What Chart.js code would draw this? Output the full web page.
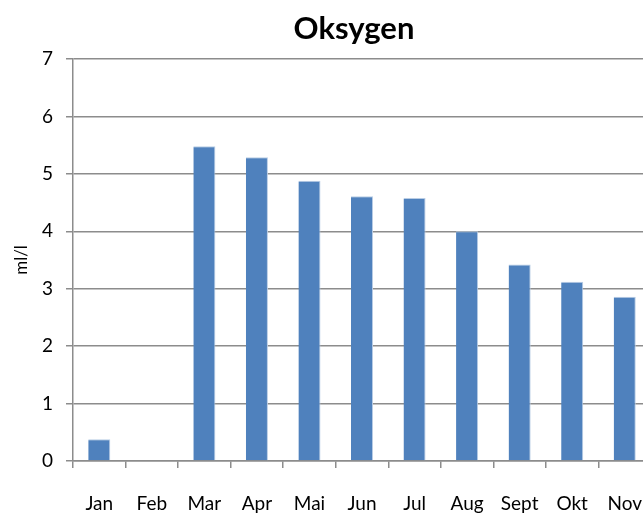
<!DOCTYPE html>
<html>
<head>
<meta charset="utf-8">
<script src="https://cdn.jsdelivr.net/npm/chart.js@4"></script>
<style>
  html, body { margin: 0; padding: 0; background: #fff; overflow: hidden; }
  #wrap { width: 643px; height: 515px; overflow: hidden; }
</style>
</head>
<body>
<div id="wrap"><canvas id="chartContainer" width="708" height="515"></canvas></div>
<script>
const months = ['Jan', 'Feb', 'Mar', 'Apr', 'Mai', 'Jun', 'Jul', 'Aug', 'Sept', 'Okt', 'Nov'];
const oxygen = [0.38, null, 5.48, 5.29, 4.88, 4.61, 4.58, 4.0, 3.42, 3.12, 2.86];
const yTicks = [0, 1, 2, 3, 4, 5, 6, 7];

(function(){
    const ctx = document.getElementById('chartContainer').getContext('2d');
    const face = 'Lato, "Open Sans", sans-serif';
    const gridGray = '#8c8c8c';

    new Chart(ctx, {
        type: 'bar',
        data: {
            labels: months,
            datasets: [{
                label: 'Oksygen',
                data: oxygen,
                backgroundColor: '#4f81bd',
                borderColor: '#b9cde5',
                borderWidth: { top: 1, right: 1, left: 0, bottom: 0 },
                categoryPercentage: 1,
                barPercentage: 0.42
            }]
        },
        options: {
            responsive: false,
            animation: false,
            layout: { padding: { left: 0, right: 0, top: 6, bottom: 0 } },
            plugins: {
                legend: { display: false },
                tooltip: { enabled: false },
                title: {
                    display: true,
                    text: 'Oksygen',
                    color: '#000',
                    font: { family: face, size: 31, weight: 'bold' },
                    padding: { top: 4, bottom: 11.8 }
                }
            },
            scales: {
                x: {
                    grid: { drawOnChartArea: false, color: gridGray, lineWidth: 1.5, tickLength: 7, tickColor: gridGray },
                    border: { color: gridGray, width: 1.5 },
                    ticks: { color: '#000', font: { family: face, size: 19 }, padding: 24, maxRotation: 0, autoSkip: false },
                    afterFit: s => { s.height = 54; }
                },
                y: {
                    min: 0,
                    max: 7,
                    afterBuildTicks: s => { s.ticks = yTicks.map(v => ({ value: v })); },
                    grid: { color: gridGray, lineWidth: 1.5, tickLength: 7, tickColor: gridGray },
                    border: { color: gridGray, width: 1.5 },
                    ticks: { color: '#000', font: { family: face, size: 19 }, padding: 13 },
                    title: {
                        display: true,
                        text: 'ml/l',
                        color: '#000',
                        font: { family: face, size: 17 },
                        padding: { top: 11, bottom: 0 }
                    },
                    afterFit: s => { s.width = 73; }
                },
                spare: {
                    position: 'right',
                    grid: { display: false },
                    border: { display: false },
                    ticks: { display: false },
                    afterFit: s => { s.width = 57; }
                }
            }
        }
    });
})();
</script>
</body>
</html>
